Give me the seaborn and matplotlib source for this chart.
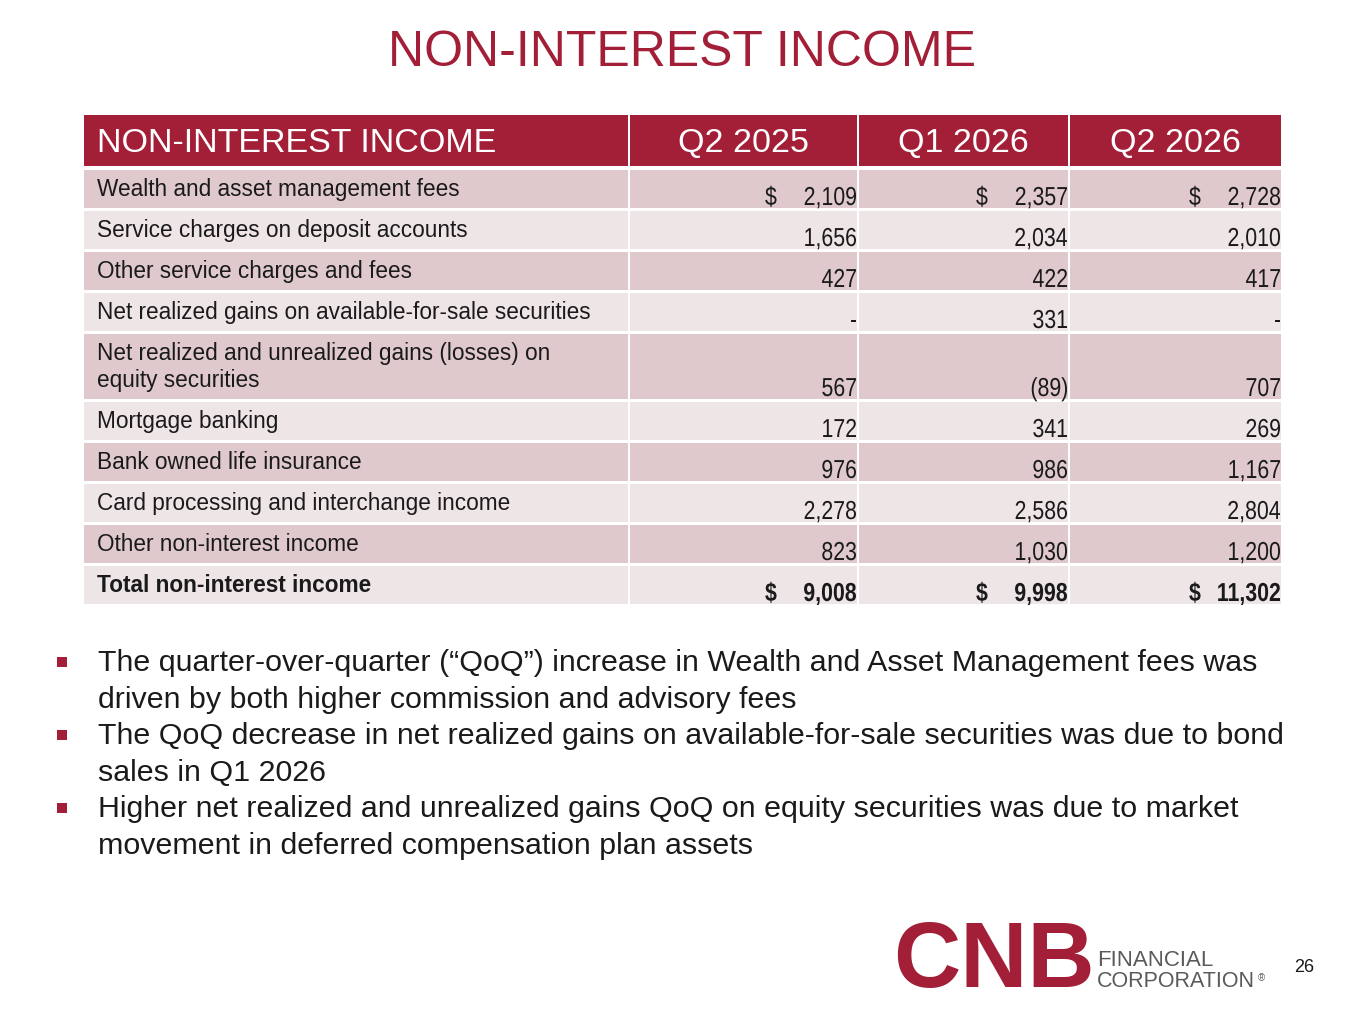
import numpy as np
import pandas as pd
import matplotlib
matplotlib.use("Agg")
import matplotlib.pyplot as plt
import matplotlib.transforms as mtransforms
from matplotlib.textpath import TextPath
from matplotlib.patches import PathPatch
from matplotlib.font_manager import FontProperties
import seaborn as sns

# ---- data ----
title = "NON-INTEREST INCOME"
col_headers = ["NON-INTEREST INCOME", "Q2 2025", "Q1 2026", "Q2 2026"]
row_labels = [
    "Wealth and asset management fees",
    "Service charges on deposit accounts",
    "Other service charges and fees",
    "Net realized gains on available-for-sale securities",
    "Net realized and unrealized gains (losses) on\nequity securities",
    "Mortgage banking",
    "Bank owned life insurance",
    "Card processing and interchange income",
    "Other non-interest income",
    "Total non-interest income",
]
q2_2025 = [2109, 1656, 427, None, 567, 172, 976, 2278, 823, 9008]
q1_2026 = [2357, 2034, 422, 331, -89, 341, 986, 2586, 1030, 9998]
q2_2026 = [2728, 2010, 417, None, 707, 269, 1167, 2804, 1200, 11302]
dollar_rows = [0, 9]
bold_rows = [9]

bullets = [
    "The quarter-over-quarter (\u201cQoQ\u201d) increase in Wealth and Asset Management fees was\ndriven by both higher commission and advisory fees",
    "The QoQ decrease in net realized gains on available-for-sale securities was due to bond\nsales in Q1 2026",
    "Higher net realized and unrealized gains QoQ on equity securities was due to market\nmovement in deferred compensation plan assets",
]
page_number = "26"

df = pd.DataFrame({"label": row_labels, "Q2 2025": q2_2025,
                   "Q1 2026": q1_2026, "Q2 2026": q2_2026})

# ---- style ----
RED = "#A31F37"
DARK_ROW = "#DFC9CC"
LIGHT_ROW = "#EEE5E7"
TEXT = "#1a1a1a"
GREY = "#5a5a5a"

sns.set_theme(style="white")
plt.rcParams["font.family"] = ["Liberation Sans", "DejaVu Sans"]

W, H = 1365, 1024
fig = plt.figure(figsize=(W / 100, H / 100), dpi=100)
ax = fig.add_axes([0, 0, 1, 1])
ax.set_xlim(0, W)
ax.set_ylim(H, 0)
ax.axis("off")


def fmt(v):
    if v is None or (isinstance(v, float) and np.isnan(v)):
        return "-"
    if v < 0:
        return f"({abs(v):,.0f})"
    return f"{v:,.0f}"


def narrow_text(x, y, s, size_px=26, bold=False, ha="right", squeeze=0.82):
    # Arial Narrow look-alike: regular glyphs squeezed horizontally
    fp = FontProperties(family="Liberation Sans", weight="bold" if bold else "normal")
    tp = TextPath((0, 0), s, size=size_px, prop=fp)
    adv = tp.get_extents().x1
    x0 = x - adv * squeeze if ha == "right" else x
    tr = mtransforms.Affine2D().scale(squeeze, -1).translate(x0, y) + ax.transData
    ax.add_patch(PathPatch(tp, transform=tr, facecolor=TEXT, edgecolor="none"))


# title
ax.text(W / 2, 53, title, color=RED, fontsize=36, ha="center", va="center")

# column geometry
col_left = [84, 630, 859, 1070]
col_right = [628, 857, 1068, 1281]
col_w = [r - l for l, r in zip(col_left, col_right)]

# header
head_top, head_h = 115, 51
ax.bar(col_left, [head_h] * 4, width=col_w, bottom=head_top, align="edge",
       color=RED, linewidth=0)
ax.text(97, head_top + head_h / 2 + 3, col_headers[0], color="white",
        fontsize=24.5, ha="left", va="center")
for j in range(1, 4):
    ax.text((col_left[j] + col_right[j]) / 2, head_top + head_h / 2 + 3,
            col_headers[j], color="white", fontsize=24.5, ha="center", va="center")

# body rows
y = 170
gap = 3
for i, row in df.iterrows():
    n_lines = row["label"].count("\n") + 1
    rh = 38 + 27 * (n_lines - 1)
    shade = DARK_ROW if i % 2 == 0 else LIGHT_ROW
    ax.bar(col_left, [rh] * 4, width=col_w, bottom=y, align="edge",
           color=shade, linewidth=0)
    bold = i in bold_rows
    for k, line in enumerate(row["label"].split("\n")):
        ax.text(97, y + 26 + 27 * k, line, color=TEXT, fontsize=16.3,
                fontweight="bold" if bold else "normal", ha="left", va="baseline")
    for j, col in enumerate(["Q2 2025", "Q1 2026", "Q2 2026"], start=1):
        v = row[col]
        v = None if pd.isna(v) else v
        narrow_text(col_right[j] - 1, y + rh - 3, fmt(v), bold=bold)
        if i in dollar_rows:
            narrow_text(col_right[j] - 92, y + rh - 3, "$", bold=bold, ha="left")
    y += rh + gap

# bullets
by = 663
for b in bullets:
    ax.scatter([62], [by - 1], marker="s", s=42, color=RED, linewidths=0)
    for line in b.split("\n"):
        ax.text(98, by, line, color=TEXT, fontsize=21.9, ha="left", va="center")
        by += 36.5

# logo
ax.text(893, 987, "CNB", color=RED, fontsize=67, fontweight="bold",
        ha="left", va="baseline")
ax.text(1097, 966, "FINANCIAL", color=GREY, fontsize=16, ha="left", va="baseline")
ax.text(1097, 987, "CORPORATION", color=GREY, fontsize=15.5, ha="left", va="baseline")
ax.text(1258, 981, "\u00ae", color=GREY, fontsize=7, ha="left", va="baseline")
ax.text(1304, 968, page_number, color=TEXT, fontsize=13, ha="center", va="center")

fig.savefig("out.png", dpi=100, facecolor="white")
